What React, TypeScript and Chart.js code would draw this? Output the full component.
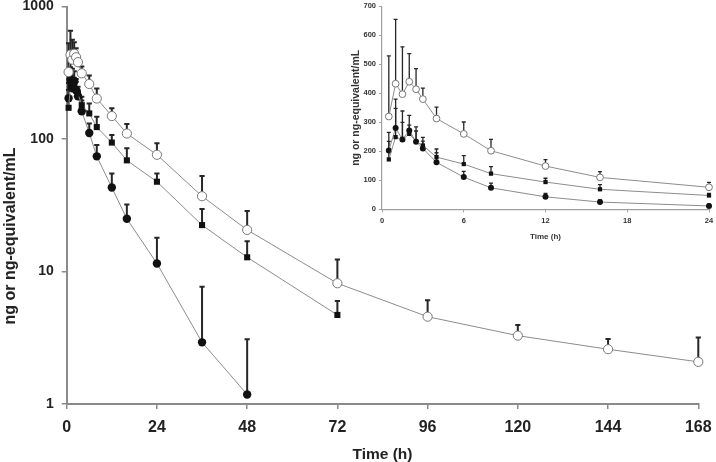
import React, { useEffect, useRef } from "react";
import { Chart, registerables } from "chart.js";

Chart.register(...registerables);

// ---- Data (ng or ng-equivalent/mL) ----
const openTimes = [0.5, 1, 1.5, 2, 2.5, 3, 4, 6, 8, 12, 16, 24, 36, 48, 72, 96, 120, 144, 168];
const openMean = [320, 433, 397, 440, 414, 380, 313, 260, 202, 149, 110, 76, 37, 20.6, 8.15, 4.56, 3.28, 2.59, 2.08];
const openUpper = [529, 655, 560, 537, 485, 418, 352, 301, 241, 171, 130, 92.8, 52.6, 28.6, 12.3, 6.07, 3.95, 3.1, 3.17];

const squareTimes = [0.5, 1, 1.5, 2, 2.5, 3, 4, 6, 8, 12, 16, 24, 36, 48, 72];
const squareMean = [172, 249, 240, 260, 234, 220, 180, 156, 123, 94, 69, 47.6, 22.4, 12.8, 4.7];
const squareUpper = [234, 348, 300, 290, 270, 235, 208, 185, 147, 107, 85, 55, 29.6, 16.9, 6];

const circleTimes = [0.5, 1, 1.5, 2, 2.5, 3, 4, 6, 8, 12, 16, 24, 36, 48];
const circleMean = [203, 280, 241, 272, 233, 210, 162, 111, 74, 43, 25, 11.5, 2.92, 1.18];
const circleUpper = [265, 380, 339, 324, 284, 248, 195, 131, 90, 55, 32, 18, 7.68, 3.08];

const insetMaxTime = 24;
const mainXTicks = [0, 24, 48, 72, 96, 120, 144, 168];
const mainYTicks = [1, 10, 100, 1000];
const insetXTicks = [0, 6, 12, 18, 24];
const insetYTicks = [0, 100, 200, 300, 400, 500, 600, 700];

const yTitle = "ng or ng-equivalent/mL";
const xTitle = "Time (h)";

const SANS = "'Liberation Sans', Arial, sans-serif";

// ---- helpers ----
const toPoints = (ts: number[], vs: number[], maxT = Infinity) =>
  ts.map((t, i) => ({ x: t, y: vs[i] })).filter((p) => p.x <= maxT);
const upperFor = (ts: number[], us: number[], maxT = Infinity) =>
  us.filter((_, i) => ts[i] <= maxT);

const noOverflowPad = (s: any) => {
  s.paddingTop = 0;
  s.paddingBottom = 0;
  s.paddingLeft = 0;
  s.paddingRight = 0;
};

const errorBarPlugin = {
  id: "errorBars",
  beforeDatasetsDraw(chart: any, _args: any, opts: any) {
    const { ctx } = chart;
    const xs = chart.scales.x;
    const ys = chart.scales.y;
    ctx.save();
    ctx.strokeStyle = opts.color || "#222";
    ctx.lineWidth = opts.width || 1.5;
    chart.data.datasets.forEach((ds: any) => {
      const err = ds.errUpper;
      if (!err) return;
      ds.data.forEach((p: any, j: number) => {
        const x = xs.getPixelForValue(p.x);
        const y0 = ys.getPixelForValue(p.y);
        const y1 = ys.getPixelForValue(err[j]);
        ctx.beginPath();
        ctx.moveTo(x, y0);
        ctx.lineTo(x, y1);
        ctx.moveTo(x - opts.cap, y1);
        ctx.lineTo(x + opts.cap, y1);
        ctx.stroke();
      });
    });
    ctx.restore();
  },
};

const yTitlePlugin = {
  id: "yTitleText",
  afterDraw(chart: any, _args: any, opts: any) {
    if (!opts || !opts.text) return;
    const { ctx } = chart;
    ctx.save();
    ctx.translate(opts.x, opts.y);
    ctx.rotate(-Math.PI / 2);
    ctx.font = opts.font;
    ctx.fillStyle = opts.color;
    ctx.textAlign = "center";
    ctx.textBaseline = "middle";
    ctx.fillText(opts.text, 0, 0);
    ctx.restore();
  },
};

const LINE = "#8c8c8c";
const MARK = "#111";

function makeDatasets(maxT: number, big: boolean) {
  const rOpen = big ? 4.6 : 3.4;
  const rCirc = big ? 4.2 : 3.0;
  const rSq = big ? 4.3 : 3.0;
  return [
    {
      label: "open",
      data: toPoints(openTimes, openMean, maxT),
      errUpper: upperFor(openTimes, openUpper, maxT),
      borderColor: LINE,
      borderWidth: 1,
      pointStyle: "circle",
      pointRadius: rOpen,
      pointBackgroundColor: "#fff",
      pointBorderColor: "#777",
      pointBorderWidth: 1,
      tension: 0,
      clip: false,
    },
    {
      label: "square",
      data: toPoints(squareTimes, squareMean, maxT),
      errUpper: upperFor(squareTimes, squareUpper, maxT),
      borderColor: LINE,
      borderWidth: 1,
      pointStyle: "rect",
      pointRadius: rSq,
      pointBackgroundColor: MARK,
      pointBorderColor: MARK,
      pointBorderWidth: 0,
      tension: 0,
      clip: false,
    },
    {
      label: "circle",
      data: toPoints(circleTimes, circleMean, maxT),
      errUpper: upperFor(circleTimes, circleUpper, maxT),
      borderColor: LINE,
      borderWidth: 1,
      pointStyle: "circle",
      pointRadius: rCirc,
      pointBackgroundColor: MARK,
      pointBorderColor: MARK,
      pointBorderWidth: 0,
      tension: 0,
      clip: false,
    },
  ];
}

export default function App() {
  const mainRef = useRef<HTMLCanvasElement>(null);
  const insetRef = useRef<HTMLCanvasElement>(null);

  useEffect(() => {
    const main = new Chart(mainRef.current as HTMLCanvasElement, {
      type: "line",
      data: { datasets: makeDatasets(Infinity, true) as any },
      plugins: [errorBarPlugin, yTitlePlugin],
      options: {
        animation: false,
        responsive: false,
        maintainAspectRatio: false,
        layout: { padding: { top: 6.5, right: 17.7, bottom: 0, left: 0 } },
        plugins: {
          legend: { display: false },
          tooltip: { enabled: false },
          errorBars: { color: "#262626", width: 2, cap: 2.6 },
          yTitleText: {
            text: yTitle,
            x: 11,
            y: 236,
            font: "bold 16px " + SANS,
            color: "#222",
          },
        } as any,
        scales: {
          x: {
            type: "linear",
            min: 0,
            max: 168,
            afterBuildTicks: (s: any) => {
              s.ticks = mainXTicks.map((v) => ({ value: v }));
            },
            afterFit: (s: any) => {
              s.height = 58;
              noOverflowPad(s);
            },
            ticks: {
              color: "#222",
              padding: 9,
              font: { family: SANS, weight: "bold", size: 16 },
            },
            grid: { drawOnChartArea: false, drawTicks: true, tickLength: 5, color: "#8a8a8a", lineWidth: 1.5 },
            border: { display: true, color: "#8a8a8a", width: 2 },
            title: {
              display: true,
              text: xTitle,
              color: "#222",
              padding: { top: 0, bottom: -2 },
              font: { family: SANS, weight: "bold", size: 15.5 },
            },
          },
          y: {
            type: "logarithmic",
            min: 1,
            max: 1000,
            afterBuildTicks: (s: any) => {
              s.ticks = mainYTicks.map((v) => ({ value: v }));
            },
            afterFit: (s: any) => {
              s.width = 66.7;
              noOverflowPad(s);
            },
            ticks: {
              color: "#222",
              padding: 8,
              callback: (v: any) => String(v),
              font: { family: SANS, weight: "bold", size: 14 },
            },
            grid: { drawOnChartArea: false, drawTicks: true, tickLength: 5, color: "#8a8a8a", lineWidth: 1.5 },
            border: { display: true, color: "#8a8a8a", width: 2 },
          },
        },
      } as any,
    });

    const inset = new Chart(insetRef.current as HTMLCanvasElement, {
      type: "line",
      data: { datasets: makeDatasets(insetMaxTime, false) as any },
      plugins: [errorBarPlugin],
      options: {
        animation: false,
        responsive: false,
        maintainAspectRatio: false,
        layout: { padding: { top: 6.3, right: 7, bottom: 0, left: 0 } },
        plugins: {
          legend: { display: false },
          tooltip: { enabled: false },
          errorBars: { color: "#262626", width: 1.3, cap: 2 },
        } as any,
        scales: {
          x: {
            type: "linear",
            min: 0,
            max: 24,
            afterBuildTicks: (s: any) => {
              s.ticks = insetXTicks.map((v) => ({ value: v }));
            },
            afterFit: (s: any) => {
              s.height = 38.7;
              noOverflowPad(s);
            },
            ticks: {
              color: "#333",
              padding: 4,
              font: { family: SANS, weight: "bold", size: 7.5 },
            },
            grid: { drawOnChartArea: false, drawTicks: true, tickLength: 3, color: "#a0a0a0" },
            border: { display: true, color: "#a0a0a0", width: 1.2 },
            title: {
              display: true,
              text: xTitle,
              color: "#333",
              padding: { top: 0, bottom: 6 },
              font: { family: SANS, weight: "bold", size: 8 },
            },
          },
          y: {
            type: "linear",
            min: 0,
            max: 700,
            afterBuildTicks: (s: any) => {
              s.ticks = insetYTicks.map((v) => ({ value: v }));
            },
            afterFit: (s: any) => {
              s.width = 32;
              noOverflowPad(s);
            },
            ticks: {
              color: "#333",
              padding: 3,
              font: { family: SANS, weight: "bold", size: 7.5 },
            },
            grid: { drawOnChartArea: false, drawTicks: true, tickLength: 3, color: "#a0a0a0" },
            border: { display: true, color: "#a0a0a0", width: 1.2 },
            title: {
              display: true,
              text: yTitle,
              color: "#333",
              padding: { top: 0, bottom: 0 },
              font: { family: SANS, weight: "bold", size: 10.5 },
            },
          },
        },
      } as any,
    });

    return () => {
      main.destroy();
      inset.destroy();
    };
  }, []);

  return (
    <div style={{ position: "fixed", left: 0, top: 0, width: 716, height: 462, background: "#fff" }}>
      <canvas ref={mainRef} width={716} height={462} style={{ position: "absolute", left: 0, top: 0, width: 716, height: 462 }} />
      <canvas ref={insetRef} width={366} height={248} style={{ position: "absolute", left: 350, top: 0, width: 366, height: 248 }} />
    </div>
  );
}
